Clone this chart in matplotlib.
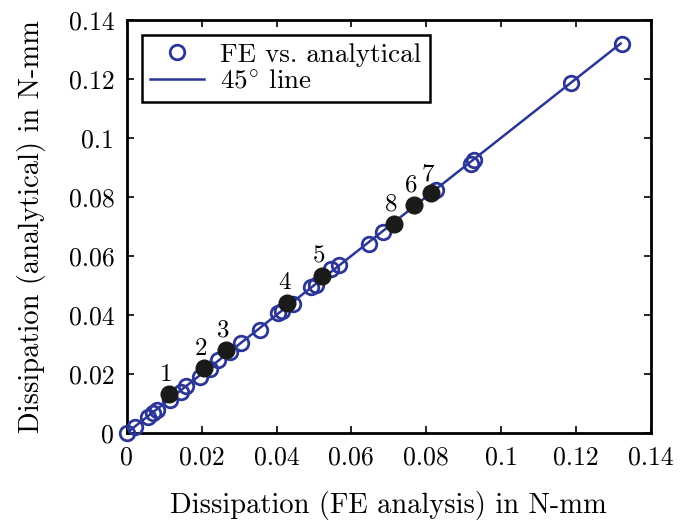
import matplotlib
matplotlib.use('Agg')
import matplotlib.pyplot as plt

# Puntos FE vs analitico (circulos abiertos)
fe_x = [0.0, 0.0021, 0.0057, 0.0070, 0.0080, 0.0115, 0.0146, 0.0159, 0.0195,
        0.0221, 0.0243, 0.0275, 0.0306, 0.0355, 0.0403, 0.0415, 0.0443, 0.0492,
        0.0505, 0.0546, 0.0568, 0.0646, 0.0684, 0.0826, 0.0919, 0.0928,
        0.1186, 0.1323]
an_y = [0.0, 0.0020, 0.0054, 0.0066, 0.0078, 0.0111, 0.0139, 0.0158, 0.0190,
        0.0218, 0.0246, 0.0275, 0.0303, 0.0350, 0.0405, 0.0412, 0.0436, 0.0495,
        0.0502, 0.0554, 0.0569, 0.0639, 0.0681, 0.0823, 0.0913, 0.0925,
        0.1185, 0.1320]

# Casos numerados (circulos negros)
case_x = [0.0113, 0.0205, 0.0264, 0.0428, 0.0521, 0.0768, 0.0813, 0.0713]
case_y = [0.0131, 0.0220, 0.0280, 0.0441, 0.0532, 0.0772, 0.0812, 0.0707]
case_labels = ['1', '2', '3', '4', '5', '6', '7', '8']

# Linea de 45 grados
line_x = [0.0, 0.132]
line_y = [0.0, 0.132]

ticks = [0, 0.02, 0.04, 0.06, 0.08, 0.1, 0.12, 0.14]
tick_labels = ['0', '0.02', '0.04', '0.06', '0.08', '0.1', '0.12', '0.14']

plt.rcParams['font.family'] = 'serif'
plt.rcParams['font.serif'] = ['cmr10']
plt.rcParams['mathtext.fontset'] = 'cm'
plt.rcParams['axes.unicode_minus'] = False

azul = '#2B3698'

fig = plt.figure(figsize=(6.82, 5.24), dpi=100)
ax = fig.add_axes([0.186, 0.174, 0.768, 0.788])

ax.plot(fe_x, an_y, 'o', mfc='none', mec=azul, mew=2.0, ms=10.5,
        label='FE vs. analytical', zorder=3, clip_on=False)
ax.plot(line_x, line_y, '-', color=azul, lw=1.8, label=r'45$^{\circ}$ line', zorder=2)
ax.plot(case_x, case_y, 'o', color='#1a1a1a', ms=12, zorder=4, clip_on=False)

for cx, cy, lab in zip(case_x, case_y, case_labels):
    ax.annotate(lab, (cx, cy), xytext=(-2, 6), textcoords='offset points',
                ha='center', va='bottom', fontsize=18)

ax.set_xlim(0, 0.14)
ax.set_ylim(0, 0.14)
ax.set_xticks(ticks)
ax.set_xticklabels(tick_labels)
ax.set_yticks(ticks)
ax.set_yticklabels(tick_labels)
ax.tick_params(direction='in', length=5, width=1.2, top=True, right=True,
               labelsize=18.5, pad=9)
for s in ax.spines.values():
    s.set_linewidth(2)

ax.set_xlabel('Dissipation (FE analysis) in N-mm', fontsize=20.5, labelpad=16)
ax.set_ylabel('Dissipation (analytical) in N-mm', fontsize=20.5, labelpad=16)

leg = ax.legend(loc='upper left', fontsize=19.5, fancybox=False, edgecolor='black',
                framealpha=1, borderaxespad=0.55, handlelength=2.0,
                labelspacing=0.1, borderpad=0.3, handletextpad=0.6)
leg.get_frame().set_linewidth(1.8)

fig.savefig('out.png', dpi=100)
